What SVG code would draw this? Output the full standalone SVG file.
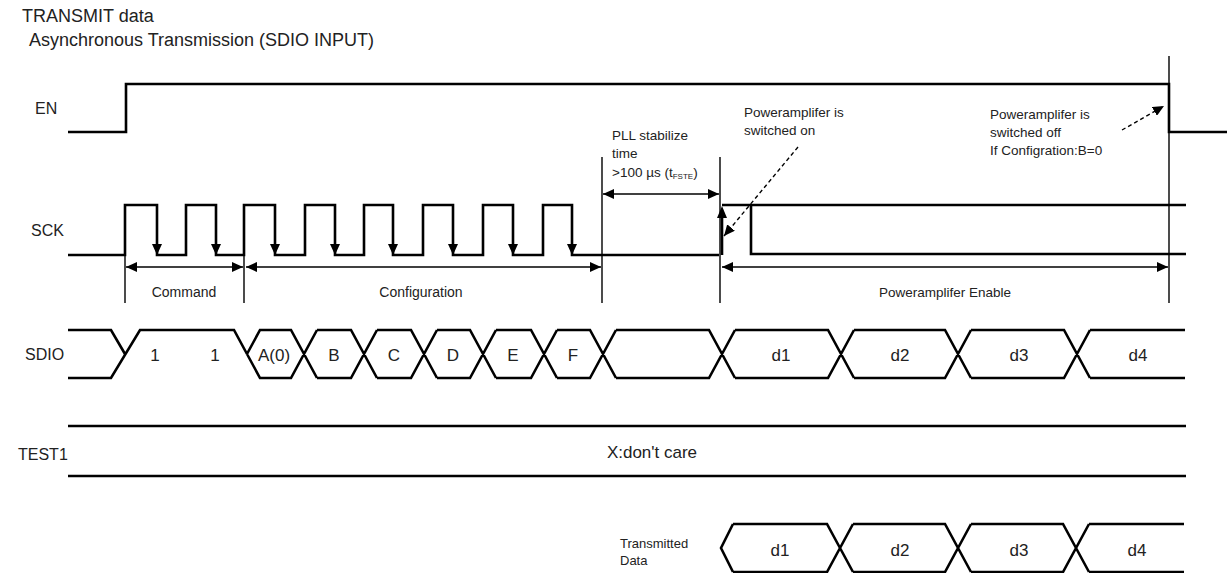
<svg xmlns="http://www.w3.org/2000/svg" width="1227" height="573" viewBox="0 0 1227 573">
<style>
text{font-family:"Liberation Sans",Arial,sans-serif;fill:#222}
.t{font-size:18px}
.lab{font-size:16px}
.v{font-size:17px;text-anchor:middle}
.s{font-size:13.5px}
.d{font-size:14px;text-anchor:middle}
.sm{font-size:13px}
.sig{fill:none;stroke:#000;stroke-width:2.6;stroke-linejoin:miter}
.ref{fill:none;stroke:#000;stroke-width:1.4}
.dim{fill:none;stroke:#000;stroke-width:1.4;marker-start:url(#ah);marker-end:url(#ah)}
.dash{fill:none;stroke:#000;stroke-width:1.4;stroke-dasharray:4 3;marker-end:url(#ah)}
</style>
<defs>
<marker id="ah" markerUnits="userSpaceOnUse" markerWidth="12" markerHeight="10" refX="11" refY="5" orient="auto-start-reverse"><path d="M0,0 L11,5 L0,10 z" fill="#000"/></marker>
<path id="dn" d="M-5,-11 L5,-11 L0,0 z" fill="#000"/>
</defs>
<rect width="1227" height="573" fill="#fff"/>
<g id="title">
<text class="t" x="22" y="22">TRANSMIT data</text>
<text class="t" x="29" y="46">Asynchronous Transmission (SDIO INPUT)</text>
</g>
<g id="EN">
<text class="lab" x="35" y="114">EN</text>
<path class="sig" d="M68,132 H126 V84 H1169 V132 H1227"/>
</g>
<g id="SCK">
<text class="lab" x="31" y="236">SCK</text>
<path class="sig" d="M68,255 H125 V205 H157 V255 H186 V205 H216 V255 H244 V205 H275 V255 H305 V205 H335 V255 H364 V205 H393 V255 H423 V205 H453 V255 H483 V205 H513 V255 H543 V205 H572 V255 H719"/>
<use href="#dn" x="157" y="255"/><use href="#dn" x="216" y="255"/><use href="#dn" x="275" y="255"/><use href="#dn" x="335" y="255"/>
<use href="#dn" x="393" y="255"/><use href="#dn" x="453" y="255"/><use href="#dn" x="513" y="255"/><use href="#dn" x="572" y="255"/>
<path class="sig" d="M722,255 V214"/>
<path d="M717,218 L727,218 L722,206 z" fill="#000"/>
<path class="sig" d="M722,205 H1186 M751,205 V254 H1186"/>
</g>
<g id="SDIO">
<text class="lab" x="25" y="360">SDIO</text>
<path class="sig" d="M68,330 H111 L125,354 M68,378 H111 L140,330 H234 L247,354"/>
<path class="sig" d="M247,354 L260,330 H291 L317,378 M247,354 L260,378 H291 L317,330
 M317,330 H351 L377,378 M317,378 H351 L377,330
 M377,330 H411 L437,378 M377,378 H411 L437,330
 M437,330 H470 L496,378 M437,378 H470 L496,330
 M496,330 H531 L557,378 M496,378 H531 L557,330
 M557,330 H590 L616,378 M557,378 H590 L616,330
 M616,330 H709 L735,378 M616,378 H709 L735,330
 M735,330 H828 L854,378 M735,378 H828 L854,330
 M854,330 H945 L971,378 M854,378 H945 L971,330
 M971,330 H1064 L1090,378 M971,378 H1064 L1090,330
 M1090,330 H1185 M1090,378 H1185"/>
<text class="v" x="155" y="361">1</text>
<text class="v" x="215" y="361">1</text>
<text class="v" x="274" y="361">A(0)</text>
<text class="v" x="334" y="361">B</text>
<text class="v" x="394" y="361">C</text>
<text class="v" x="453" y="361">D</text>
<text class="v" x="513" y="361">E</text>
<text class="v" x="573" y="361">F</text>
<text class="v" x="781" y="361">d1</text>
<text class="v" x="900" y="361">d2</text>
<text class="v" x="1019" y="361">d3</text>
<text class="v" x="1138" y="361">d4</text>
</g>
<g id="TEST1">
<text class="lab" x="18" y="460">TEST1</text>
<path class="sig" d="M68,426 H1186 M68,476 H1186"/>
<text class="v" x="652" y="458">X:don't care</text>
</g>
<g id="TXDATA">
<text class="sm" x="620" y="548">Transmitted</text>
<text class="sm" x="620" y="565">Data</text>
<path class="sig" d="M733,524 L721,548 L733,572 M733,524 H827 L853,572 M733,572 H827 L853,524
 M853,524 H945 L971,572 M853,572 H945 L971,524
 M971,524 H1063 L1089,572 M971,572 H1063 L1089,524
 M1089,524 H1184 M1089,572 H1184"/>
<text class="v" x="780" y="556">d1</text>
<text class="v" x="900" y="556">d2</text>
<text class="v" x="1019" y="556">d3</text>
<text class="v" x="1137" y="556">d4</text>
</g>
<g id="connectors">
<path class="ref" d="M125,255 V303 M244,255 V303 M602,157 V303 M720,157 V303 M1169,56 V303"/>
<path class="dim" d="M126,267 H243"/>
<path class="dim" d="M246,267 H601"/>
<path class="dim" d="M722,267 H1168"/>
<path class="dim" d="M603,194 H719"/>
<path class="dash" d="M798,147 L724,236"/>
<path class="dash" d="M1122,130 L1164,106"/>
</g>
<g id="annotations">
<text class="d" x="184" y="297">Command</text>
<text class="d" x="421" y="297">Configuration</text>
<text class="s" x="945" y="297" text-anchor="middle">Poweramplifer Enable</text>
<text class="s" x="612" y="140">PLL stabilize</text>
<text class="s" x="612" y="158">time</text>
<text class="s" x="612" y="177">&gt;100 µs (t<tspan font-size="8" dy="2">FSTE</tspan><tspan dy="-2">)</tspan></text>
<text class="s" x="744" y="117">Poweramplifer is</text>
<text class="s" x="744" y="135">switched on</text>
<text class="s" x="990" y="119">Poweramplifer is</text>
<text class="s" x="990" y="137">switched off</text>
<text class="s" x="990" y="155">If Configration:B=0</text>
</g>
</svg>
